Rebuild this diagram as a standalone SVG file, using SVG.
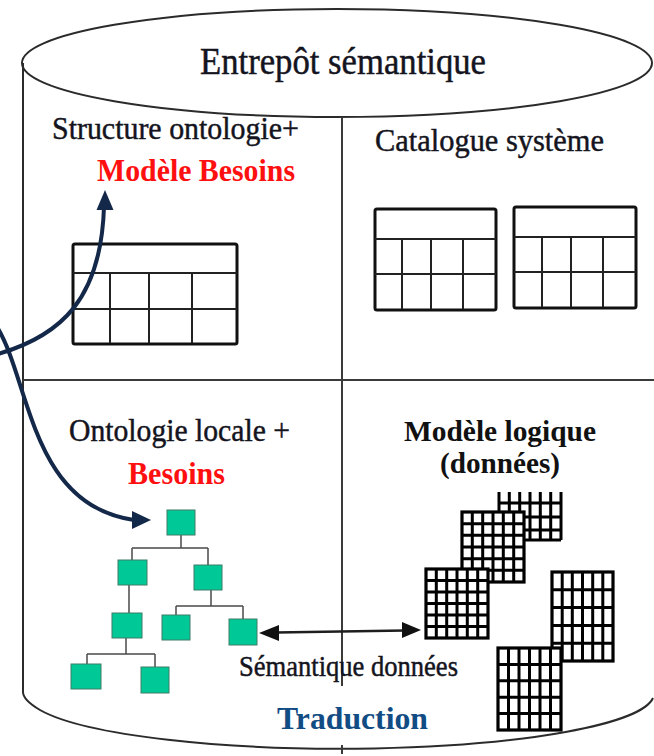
<svg xmlns="http://www.w3.org/2000/svg" width="654" height="756" viewBox="0 0 654 756">
  <style>
    .outline { fill: none; stroke: #2b2b2b; stroke-width: 2; }
    .divider { fill: none; stroke: #3a3a3a; stroke-width: 2; }
    .label { font-family: "Liberation Serif", "Times New Roman", "DejaVu Serif", serif; fill: #141420; stroke: #141420; stroke-width: 0.45; }
    .red { font-family: "Liberation Serif", "Times New Roman", "DejaVu Serif", serif; font-weight: bold; fill: #ff1010; }
    .bold { font-family: "Liberation Serif", "Times New Roman", "DejaVu Serif", serif; font-weight: bold; fill: #111; }
    .blue { font-family: "Liberation Serif", "Times New Roman", "DejaVu Serif", serif; font-weight: bold; fill: #124c84; }
    .tbl { fill: #fff; stroke: #111; stroke-width: 3; }
    .tblin { fill: none; stroke: #222; stroke-width: 2; }
    .node { fill: #00c896; stroke: #3f7d66; stroke-width: 1; }
    .edge { fill: none; stroke: #4a4a4a; stroke-width: 1.5; }
    .grid { fill: #fff; stroke: #000; stroke-width: 3.2; }
    .gridin { fill: none; stroke: #000; stroke-width: 3; }
    .curve { fill: none; stroke: #14284a; stroke-width: 4; }
    .head { fill: #14284a; }
    .link { fill: none; stroke: #1e1e1e; stroke-width: 2.5; }
    .linkhead { fill: #111; }
  </style>

  <!-- Cylinder body -->
  <g id="cylinder">
    <path class="outline" d="M23 63 L23 692 Q23 700 40 710 A314 55 0 0 0 653 698"/>
    <ellipse class="outline" cx="337" cy="63" rx="315" ry="54" fill="#fff"/>
    <line class="divider" x1="23" y1="380" x2="654" y2="380"/>
    <line class="divider" x1="342" y1="117" x2="342" y2="686"/>
    <line class="divider" x1="342" y1="745" x2="342" y2="754"/>
    <text class="label" x="200" y="74" font-size="37" textLength="286" lengthAdjust="spacingAndGlyphs">Entrepôt sémantique</text>
  </g>

  <!-- Top-left quadrant -->
  <g id="structure-ontologie">
    <text class="label" x="52" y="139" font-size="31" textLength="247" lengthAdjust="spacingAndGlyphs">Structure ontologie+</text>
    <text class="red" x="97" y="181" font-size="31" textLength="198" lengthAdjust="spacingAndGlyphs">Modèle Besoins</text>
    <rect class="tbl" x="73" y="244" width="164" height="100" rx="2"/>
    <path class="tblin" d="M73 273 H237 M73 309 H237 M110 273 V343 M149 273 V343 M192 273 V343"/>
  </g>

  <!-- Top-right quadrant -->
  <g id="catalogue-systeme">
    <text class="label" x="375" y="151" font-size="32" textLength="229" lengthAdjust="spacingAndGlyphs">Catalogue système</text>
    <rect class="tbl" x="375" y="209" width="121" height="101" rx="2"/>
    <path class="tblin" d="M375 239 H496 M375 274 H496 M402 239 V309 M431 239 V309 M463 239 V309"/>
    <rect class="tbl" x="514" y="207" width="122" height="101" rx="2"/>
    <path class="tblin" d="M514 237 H636 M514 272 H636 M542 237 V307 M571 237 V307 M603 237 V307"/>
  </g>

  <!-- Bottom-left quadrant: ontology tree -->
  <g id="ontologie-locale">
    <text class="label" x="69" y="441" font-size="31" textLength="221" lengthAdjust="spacingAndGlyphs">Ontologie locale +</text>
    <text class="red" x="128" y="484" font-size="31" textLength="97" lengthAdjust="spacingAndGlyphs">Besoins</text>
    <path class="edge" d="M181 535 V548 M132 548 H208 M132 548 V560 M208 548 V565
                          M129 585 V613 M211 590 V606 M176 606 H243 M176 606 V615 M243 606 V619
                          M126 638 V654 M87 654 H155 M87 654 V664 M155 654 V667"/>
    <rect class="node" x="167" y="510" width="28" height="25"/>
    <rect class="node" x="118" y="560" width="29" height="25"/>
    <rect class="node" x="194" y="565" width="28" height="25"/>
    <rect class="node" x="112" y="613" width="30" height="25"/>
    <rect class="node" x="162" y="615" width="28" height="25"/>
    <rect class="node" x="229" y="619" width="28" height="26"/>
    <rect class="node" x="71" y="664" width="30" height="25"/>
    <rect class="node" x="141" y="667" width="28" height="26"/>
  </g>

  <!-- Bottom-right quadrant: logical data model -->
  <g id="modele-logique">
    <text class="bold" x="404" y="441" font-size="30" textLength="192" lengthAdjust="spacingAndGlyphs">Modèle logique</text>
    <text class="bold" x="440" y="473" font-size="30" textLength="120" lengthAdjust="spacingAndGlyphs">(données)</text>
    <!-- table sheet, upper part hidden -->
    <g>
      <path class="gridin" d="M499 492 V540 M509.3 492 V540 M519.7 492 V540 M530 492 V540 M540.3 492 V540 M550.7 492 V540 M561 492 V540
                              M499 503 H561 M499 517 H561 M499 530 H561"/>
      <line class="grid" x1="499" y1="540" x2="561" y2="540"/>
    </g>
    <g>
      <rect class="grid" x="462" y="512" width="62" height="70"/>
      <path class="gridin" d="M472.3 512 V582 M482.7 512 V582 M493 512 V582 M503.3 512 V582 M513.7 512 V582
                              M462 523.7 H524 M462 535.3 H524 M462 547 H524 M462 558.7 H524 M462 570.3 H524"/>
    </g>
    <g>
      <rect class="grid" x="426" y="569" width="62" height="69"/>
      <path class="gridin" d="M436.3 569 V638 M446.7 569 V638 M457 569 V638 M467.3 569 V638 M477.7 569 V638
                              M426 580.5 H488 M426 592 H488 M426 603.5 H488 M426 615 H488 M426 626.5 H488"/>
    </g>
    <g>
      <rect class="grid" x="552" y="572" width="61" height="89"/>
      <path class="gridin" d="M562.2 572 V661 M572.3 572 V661 M582.5 572 V661 M592.7 572 V661 M602.8 572 V661
                              M552 589.8 H613 M552 607.6 H613 M552 625.4 H613 M552 643.2 H613"/>
    </g>
    <g>
      <rect class="grid" x="498" y="648" width="63" height="82"/>
      <path class="gridin" d="M508.5 648 V730 M519 648 V730 M529.5 648 V730 M540 648 V730 M550.5 648 V730
                              M498 664.4 H561 M498 680.8 H561 M498 697.2 H561 M498 713.6 H561"/>
    </g>
  </g>

  <!-- Bottom labels -->
  <g id="semantique-donnees">
    <text class="label" x="239" y="676" font-size="29" textLength="219" lengthAdjust="spacingAndGlyphs">Sémantique données</text>
  </g>
  <g id="traduction">
    <text class="blue" x="277" y="729" font-size="32" textLength="151" lengthAdjust="spacingAndGlyphs">Traduction</text>
  </g>

  <!-- Connectors -->
  <g id="connectors">
    <path class="curve" d="M-2 354 C60 336 101 300 104 207"/>
    <polygon class="head" points="105,190 96.5,210 113.5,210"/>
    <path class="curve" d="M-3 327 C30 380 30 505 134 520"/>
    <polygon class="head" points="151,520 132,511 132,529"/>
    <line class="link" x1="276" y1="632.5" x2="405" y2="630.5"/>
    <polygon class="linkhead" points="259,633 279,625 279,641"/>
    <polygon class="linkhead" points="421,630 402,622 402,638"/>
  </g>
</svg>
